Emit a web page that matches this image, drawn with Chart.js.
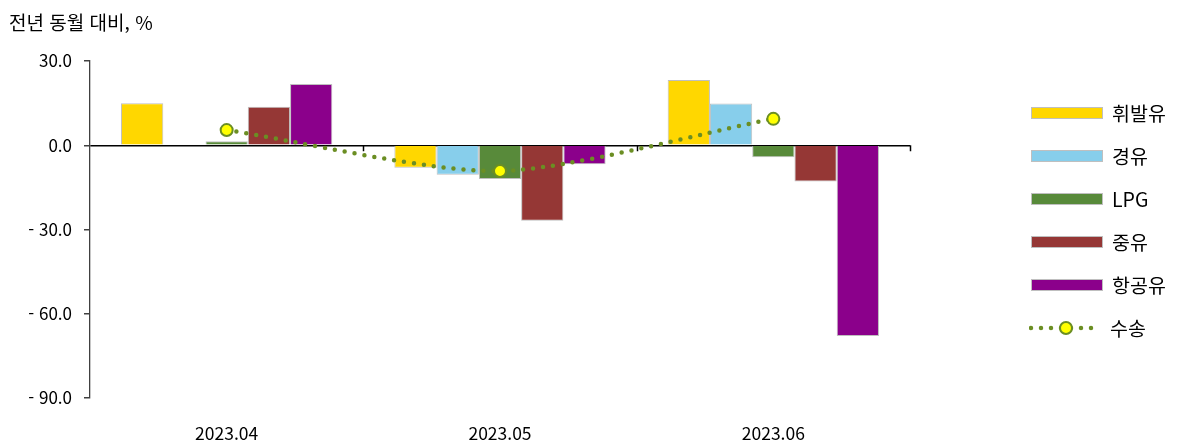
<!DOCTYPE html>
<html lang="ko">
<head>
<meta charset="utf-8">
<script src="https://cdn.jsdelivr.net/npm/chart.js@4.4.0/dist/chart.umd.min.js"></script>
<style>
  body { margin: 0; background: #fff; font-family: "Noto Sans CJK KR", "Noto Sans", sans-serif; color: #000; }
  #wrap { position: relative; width: 1198px; height: 440px; }
  #unit { position: absolute; left: 9px; top: 10px; font-size: 19px; line-height: 24px; }
  #legend { position: absolute; left: 1031px; top: 0; width: 160px; height: 440px; }
  .item { position: absolute; left: 0; height: 24px; display: flex; align-items: center; font-size: 19.5px; }
  .swatch { width: 70px; height: 10px; border: 1px solid #bfbfbf; margin-right: 9px; }
  .item svg { margin-right: 9px; }
</style>
</head>
<body>
<div id="wrap">
  <canvas id="fuelChart" width="1198" height="440"></canvas>
  <div id="unit">전년 동월 대비, %</div>
  <div id="legend"></div>
</div>
<script>
// data
const months = ['2023.04', '2023.05', '2023.06'];
const gasoline = [15.0, -8.0, 23.2];    // 휘발유
const diesel = [-0.3, -10.5, 14.9];     // 경유
const lpg = [1.4, -12.0, -4.3];         // LPG
const fuelOil = [13.7, -26.9, -12.9];   // 중유
const jetFuel = [21.8, -6.8, -67.9];    // 항공유
const transport = [5.4, -9.2, 9.4];     // 수송
const yTicks = [-90, -60, -30, 0, 30];

const barSeries = [
    { label: '휘발유', data: gasoline, color: '#FFD700' },
    { label: '경유', data: diesel, color: '#87CEEB' },
    { label: 'LPG', data: lpg, color: '#588A3A' },
    { label: '중유', data: fuelOil, color: '#953735' },
    { label: '항공유', data: jetFuel, color: '#8B008B' }
];
const lineColor = '#6B8E23';

document.addEventListener('DOMContentLoaded', function() {
    // ticks on the zero line at the category boundaries
    const zeroTicks = {
        id: 'zeroTicks',
        beforeDatasetsDraw(chart) {
            const x = chart.scales.x, y = chart.scales.y, ctx = chart.ctx;
            const y0 = y.getPixelForValue(0);
            const step = x.width / months.length;
            ctx.save();
            ctx.strokeStyle = '#000';
            ctx.lineWidth = 1.5;
            for (let i = 1; i <= months.length; i++) {
                const px = Math.round(x.left + step * i) + 0.5;
                ctx.beginPath();
                ctx.moveTo(px, y0);
                ctx.lineTo(px, y0 + 6);
                ctx.stroke();
            }
            ctx.restore();
        }
    };

    const datasets = barSeries.map(s => ({
        type: 'bar',
        label: s.label,
        data: s.data,
        backgroundColor: s.color,
        borderColor: '#bfbfbf',
        borderWidth: 1,
        categoryPercentage: 0.773,
        barPercentage: 1,
        order: 1
    }));
    datasets.push({
        type: 'line',
        label: '수송',
        data: transport,
        borderColor: lineColor,
        borderWidth: 4.5,
        borderDash: [0, 10],
        borderCapStyle: 'round',
        tension: 0.25,
        pointRadius: 6,
        pointBackgroundColor: '#FFFF00',
        pointBorderColor: lineColor,
        pointBorderWidth: 2,
        order: 0
    });

    new Chart(document.getElementById('fuelChart'), {
        data: { labels: months, datasets: datasets },
        options: {
            responsive: false,
            animation: false,
            layout: { padding: { left: 0, top: 61, right: 288, bottom: 0 } },
            plugins: { legend: { display: false }, tooltip: { enabled: false } },
            scales: {
                x: {
                    grid: { display: false },
                    border: { display: false },
                    ticks: { color: '#000', padding: 17, font: { family: '"Noto Sans CJK KR"', size: 17.5 } },
                    afterFit(scale) { scale.height = 42; }
                },
                y: {
                    min: -90,
                    max: 30,
                    afterBuildTicks(scale) { scale.ticks = yTicks.map(v => ({ value: v })); },
                    border: { display: true, color: '#404040', width: 1.3 },
                    grid: {
                        color: ctx => ctx.tick && ctx.tick.value === 0 ? '#000' : 'rgba(0,0,0,0)',
                        lineWidth: 1.5,
                        tickColor: '#404040',
                        tickLength: 6
                    },
                    ticks: {
                        color: '#000',
                        padding: 12,
                        font: { family: '"Noto Sans CJK KR"', size: 17 },
                        callback: v => v < 0 ? '- ' + Math.abs(v).toFixed(1) : v.toFixed(1)
                    },
                    afterFit(scale) { scale.width = 90; }
                }
            }
        },
        plugins: [zeroTicks]
    });

    // legend built from the same series
    const legend = document.getElementById('legend');
    barSeries.forEach((s, i) => {
        const row = document.createElement('div');
        row.className = 'item';
        row.style.top = (112.5 + i * 43 - 12) + 'px';
        row.innerHTML = '<span class="swatch" style="background:' + s.color + '"></span><span>' + s.label + '</span>';
        legend.appendChild(row);
    });
    const lineRow = document.createElement('div');
    lineRow.className = 'item';
    lineRow.style.top = (112.5 + 5 * 43 - 12) + 'px';
    lineRow.innerHTML = '<svg width="72" height="16" style="margin-left:-2px">' +
        '<line x1="2" y1="8" x2="70" y2="8" stroke="' + lineColor + '" stroke-width="4.5" stroke-linecap="round" stroke-dasharray="0 10"/>' +
        '<circle cx="37" cy="8" r="6" fill="#FFFF00" stroke="' + lineColor + '" stroke-width="2"/></svg><span>수송</span>';
    legend.appendChild(lineRow);
});
</script>
</body>
</html>
